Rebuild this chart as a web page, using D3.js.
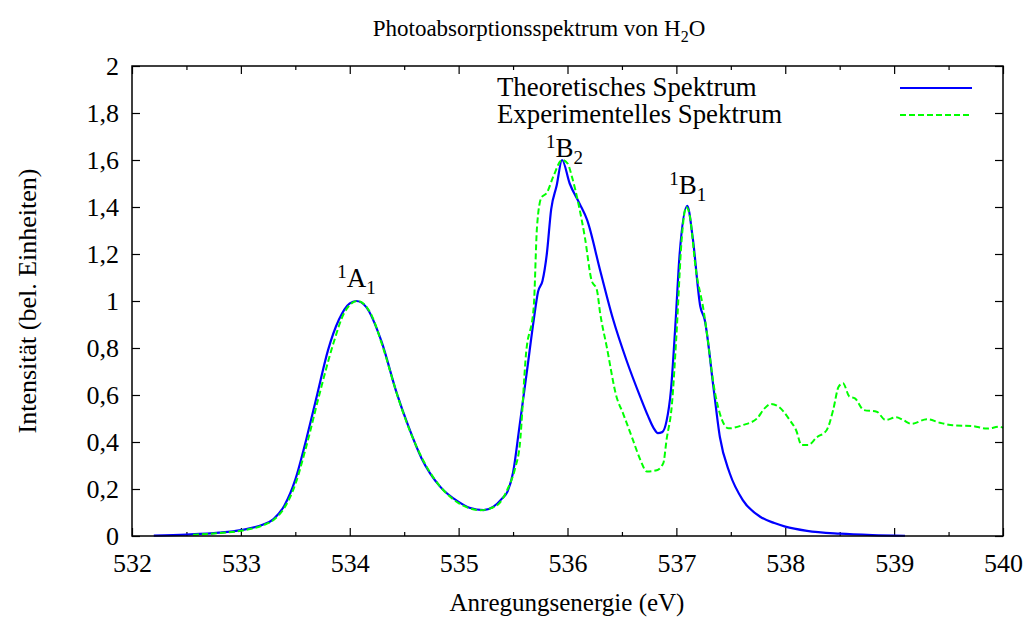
<!DOCTYPE html>
<html><head><meta charset="utf-8">
<script src="https://cdn.jsdelivr.net/npm/d3@7"></script>
<style>
html,body{margin:0;padding:0;background:#fff;}
</style></head>
<body>
<svg id="chart" width="1029" height="617"></svg>
<script>
// ---- data ----
const theoEnergy = [532.2,532.5,532.8,533.0,533.2,533.3,533.4,533.5,533.6,533.7,533.8,533.9,534.0,534.06,534.15,534.29,534.43,534.54,534.66,534.83,535.0,535.1,535.23,535.32,535.4,535.45,535.5,535.56,535.63,535.69,535.73,535.77,535.81,535.85,535.9,535.95,536.02,536.11,536.18,536.3,536.42,536.54,536.67,536.74,536.79,536.83,536.87,536.91,536.95,536.99,537.03,537.1,537.15,537.22,537.26,537.34,537.4,537.49,537.61,537.77,537.9,538.0,538.2,538.5,538.8,539.1];
const theoIntensity = [0.002,0.006,0.014,0.025,0.048,0.072,0.13,0.24,0.41,0.60,0.79,0.92,0.99,1.0,0.975,0.83,0.61,0.465,0.33,0.21,0.145,0.12,0.11,0.125,0.16,0.19,0.27,0.47,0.71,0.92,1.04,1.085,1.20,1.39,1.49,1.60,1.50,1.415,1.345,1.13,0.92,0.75,0.59,0.51,0.46,0.438,0.442,0.49,0.62,0.89,1.20,1.405,1.27,0.976,0.92,0.635,0.42,0.267,0.153,0.082,0.055,0.04,0.022,0.01,0.004,0.001];

const expEnergy = [532.56,532.8,533.0,533.2,533.3,533.4,533.5,533.6,533.72,533.85,533.95,534.07,534.2,534.3,534.45,534.55,534.7,534.85,535.0,535.2,535.35,535.45,535.52,535.56,535.62,535.69,535.72,535.76,535.81,535.87,535.95,536.0,536.04,536.1,536.16,536.22,536.27,536.3,536.36,536.45,536.51,536.6,536.67,536.73,536.82,536.88,536.91,536.96,537.0,537.05,537.09,537.12,537.18,537.25,537.29,537.34,537.4,537.48,537.61,537.74,537.81,537.87,537.94,538.04,538.1,538.15,538.21,538.29,538.38,538.44,538.49,538.53,538.59,538.64,538.72,538.84,538.92,539.02,539.08,539.16,539.3,539.42,539.54,539.72,539.85,539.97,540.0];
const expIntensity = [0.005,0.012,0.022,0.045,0.068,0.12,0.22,0.38,0.60,0.82,0.95,1.0,0.94,0.81,0.58,0.45,0.30,0.2,0.14,0.11,0.13,0.2,0.29,0.38,0.78,0.976,1.316,1.44,1.46,1.53,1.60,1.586,1.53,1.415,1.27,1.09,1.047,0.948,0.806,0.593,0.522,0.41,0.323,0.274,0.28,0.31,0.41,0.565,0.85,1.27,1.40,1.37,1.13,0.96,0.83,0.65,0.52,0.458,0.472,0.50,0.543,0.562,0.55,0.494,0.45,0.387,0.387,0.42,0.45,0.536,0.635,0.65,0.593,0.586,0.536,0.529,0.494,0.505,0.494,0.477,0.497,0.482,0.471,0.468,0.457,0.465,0.46];

const xTicks = [532,533,534,535,536,537,538,539,540];
const xMinorTicks = [532.5,533.5,534.5,535.5,536.5,537.5,538.5,539.5];
const yTicks = [0,0.2,0.4,0.6,0.8,1,1.2,1.4,1.6,1.8,2];
const yTickLabels = ["0","0,2","0,4","0,6","0,8","1","1,2","1,4","1,6","1,8","2"];
const seriesNames = ["Theoretisches Spektrum","Experimentelles Spektrum"];
const peakStates = ["A","B","B"];
const peakSup = ["1","1","1"];
const peakSub = ["1","2","1"];
const peakEnergy = [534.06,535.95,537.1];
const peakValue = [1.0,1.60,1.405];

// ---- layout ----
const FONT = "Liberation Serif";
const L = 132, R = 1003, T = 66, B = 536;
const svg = d3.select("#chart");
const x = d3.scaleLinear().domain([532,540]).range([L,R]);
const y = d3.scaleLinear().domain([0,2]).range([B,T]);
const FS = 26;

// axes
const gx = svg.append("g").attr("transform",`translate(0,${B})`)
  .call(d3.axisBottom(x).tickValues(xTicks).tickFormat(d3.format("d")).tickSize(-8).tickPadding(18));
const gxm = svg.append("g").attr("transform",`translate(0,${B})`)
  .call(d3.axisBottom(x).tickValues(xMinorTicks).tickFormat("").tickSize(-4));
const gxt = svg.append("g").attr("transform",`translate(0,${T})`)
  .call(d3.axisTop(x).tickValues(xTicks).tickFormat("").tickSize(-8));
const gxtm = svg.append("g").attr("transform",`translate(0,${T})`)
  .call(d3.axisTop(x).tickValues(xMinorTicks).tickFormat("").tickSize(-4));
const gy = svg.append("g").attr("transform",`translate(${L},0)`)
  .call(d3.axisLeft(y).tickValues(yTicks).tickFormat((d,i)=>yTickLabels[i]).tickSize(-8).tickPadding(13));
const gyr = svg.append("g").attr("transform",`translate(${R},0)`)
  .call(d3.axisRight(y).tickValues(yTicks).tickFormat("").tickSize(-8));
[gx,gxm,gxt,gxtm,gy,gyr].forEach(g=>{
  g.attr("font-family",null).attr("font-size",null);
  g.select(".domain").remove();
  g.selectAll(".tick line").attr("stroke","#000").attr("stroke-width",1.2);
  g.selectAll("text").style("font-size",FS+"px").style("font-family",FONT).attr("fill","#000");
});
gx.selectAll("text").attr("dy","0.71em");

// lines
const lineTheo = d3.line().x((d,i)=>x(theoEnergy[i])).y((d,i)=>y(theoIntensity[i])).curve(d3.curveMonotoneX);
const lineExp = d3.line().x((d,i)=>x(expEnergy[i])).y((d,i)=>y(expIntensity[i])).curve(d3.curveMonotoneX);
svg.append("path").datum(theoEnergy).attr("d",lineTheo).attr("fill","none")
  .attr("stroke","#0000ff").attr("stroke-width",2.2);
svg.append("path").datum(expEnergy).attr("d",lineExp).attr("fill","none")
  .attr("stroke","#00ff00").attr("stroke-width",2).attr("stroke-dasharray","6,3");

// frame
svg.append("rect").attr("x",L).attr("y",T).attr("width",R-L).attr("height",B-T)
  .attr("fill","none").attr("stroke","#000").attr("stroke-width",1.5);

function txt(sel){ return sel.style("font-family",FONT).attr("fill","#000"); }

// legend
const legY = [88,115];
const legColors = ["#0000ff","#00ff00"];
const legDash = [null,"6,3"];
seriesNames.forEach((n,i)=>{
  txt(svg.append("text")).attr("x",497).attr("y",legY[i]+8).style("font-size","26.8px").text(n);
  svg.append("line").attr("x1",900).attr("x2",972).attr("y1",legY[i]).attr("y2",legY[i])
    .attr("stroke",legColors[i]).attr("stroke-width",2).attr("stroke-dasharray",legDash[i]);
});

// peak labels
const labelOffsets = [[-19,-14],[-16,-3],[-18,-12]];
peakStates.forEach((s,i)=>{
  const t = txt(svg.append("text")).attr("x",x(peakEnergy[i])+labelOffsets[i][0]).attr("y",y(peakValue[i])+labelOffsets[i][1]).style("font-size","27px");
  t.append("tspan").style("font-size","19px").attr("dy",-9).text(peakSup[i]);
  t.append("tspan").attr("dy",9).text(s);
  t.append("tspan").style("font-size","19px").attr("dy",7).text(peakSub[i]);
});

// title
const title = txt(svg.append("text")).attr("x",539).attr("y",36).attr("text-anchor","middle").style("font-size","23px");
title.append("tspan").text("Photoabsorptionsspektrum von H");
title.append("tspan").style("font-size","16px").attr("dy",6).text("2");
title.append("tspan").attr("dy",-6).text("O");

// axis labels
txt(svg.append("text")).attr("x",567).attr("y",611).attr("text-anchor","middle").style("font-size","25px")
  .text("Anregungsenergie (eV)");
txt(svg.append("text")).attr("transform","translate(36,301) rotate(-90)").attr("text-anchor","middle").style("font-size","26px")
  .text("Intensität (bel. Einheiten)");
</script>
</body></html>
